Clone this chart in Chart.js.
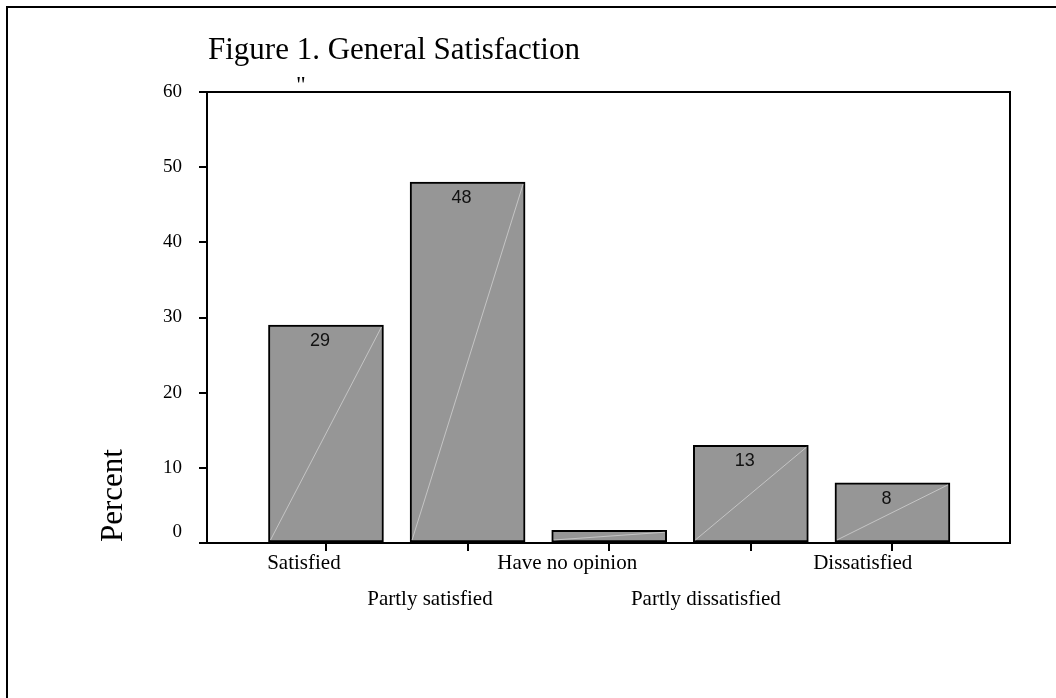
<!DOCTYPE html>
<html>
<head>
<meta charset="utf-8">
<title>Figure 1. General Satisfaction</title>
<script src="https://cdn.jsdelivr.net/npm/chart.js@4/dist/chart.umd.min.js"></script>
<style>
  html, body { margin: 0; padding: 0; background: #fff; }
  #wrap { width: 1056px; height: 698px; position: relative; overflow: hidden; }
  canvas { display: block; }
</style>
</head>
<body>
<div id="wrap"><canvas id="chart" width="1056" height="698"></canvas></div>
<script>
// Survey answers and the share of respondents (%) giving each one
const categories = ['Satisfied', 'Partly satisfied', 'Have no opinion', 'Partly dissatisfied', 'Dissatisfied'];
const percents = [29, 48, 1.7, 13, 8];
const showValue = [true, true, false, true, true];
const yTickValues = [0, 10, 20, 30, 40, 50, 60];

const chartTitle = 'Figure 1. General Satisfaction';
const yTitle = 'Percent';

const SERIF = '"Liberation Serif", "Times New Roman", Times, serif';
const SANS = '"Liberation Sans", Arial, Helvetica, sans-serif';

// Frame, title, axis caption, bar diagonals, value labels and category labels
const decor = {
  id: 'decor',
  beforeDraw(chart) {
    const ctx = chart.ctx;
    ctx.save();
    ctx.fillStyle = '#fff';
    ctx.fillRect(0, 0, chart.width, chart.height);
    // outer page frame
    ctx.strokeStyle = '#000';
    ctx.lineWidth = 2;
    ctx.beginPath();
    ctx.moveTo(7, chart.height);
    ctx.lineTo(7, 7);
    ctx.lineTo(chart.width, 7);
    ctx.stroke();
    // title
    ctx.fillStyle = '#000';
    ctx.font = '31px ' + SERIF;
    ctx.textAlign = 'left';
    ctx.textBaseline = 'alphabetic';
    ctx.fillText(chartTitle, 208, 59);
    ctx.font = '24px ' + SERIF;
    ctx.fillText('"', 296, 92);
    // rotated axis caption
    ctx.save();
    ctx.translate(122, 542);
    ctx.rotate(-Math.PI / 2);
    ctx.font = '31px ' + SERIF;
    ctx.fillText(yTitle, 0, 0);
    ctx.restore();
    ctx.restore();
  },
  afterDatasetsDraw(chart) {
    const ctx = chart.ctx;
    const meta = chart.getDatasetMeta(0);
    ctx.save();
    meta.data.forEach((bar, i) => {
      const p = bar.getProps(['x', 'y', 'base', 'width'], true);
      const left = p.x - p.width / 2 + 2;
      const right = p.x + p.width / 2 - 2;
      ctx.strokeStyle = 'rgba(205,205,205,0.85)';
      ctx.lineWidth = 1;
      ctx.beginPath();
      ctx.moveTo(left, p.base - 2);
      ctx.lineTo(right, p.y + 2);
      ctx.stroke();
      if (showValue[i]) {
        ctx.fillStyle = '#111';
        ctx.font = '18px ' + SANS;
        ctx.textAlign = 'center';
        ctx.textBaseline = 'middle';
        ctx.fillText(String(Math.round(percents[i])), p.x - 6, p.y + 16);
      }
    });
    ctx.restore();
  },
  afterDraw(chart) {
    const a = chart.chartArea;
    const ctx = chart.ctx;
    ctx.save();
    ctx.strokeStyle = '#000';
    ctx.lineWidth = 2;
    ctx.beginPath();
    ctx.moveTo(a.left - 8, a.top);
    ctx.lineTo(a.right, a.top);
    ctx.lineTo(a.right, a.bottom);
    ctx.stroke();
    // category names in two staggered rows under their tick marks
    const xs = chart.scales.x;
    ctx.fillStyle = '#000';
    ctx.font = '21px ' + SERIF;
    ctx.textAlign = 'left';
    ctx.textBaseline = 'middle';
    categories.forEach((name, i) => {
      const px = xs.getPixelForValue(i);
      const w = ctx.measureText(name).width;
      const y = a.bottom + (i % 2 ? 56 : 20);
      ctx.fillText(name, px - 0.8 * w, y);
    });
    ctx.restore();
  }
};

new Chart(document.getElementById('chart'), {
  type: 'bar',
  data: {
    datasets: [{
      data: categories.map((c, i) => ({ x: i, y: percents[i] })),
      backgroundColor: '#969696',
      borderColor: '#000',
      borderWidth: 2,
      borderSkipped: false,
      barThickness: 115
    }]
  },
  options: {
    responsive: false,
    devicePixelRatio: 1,
    animation: false,
    layout: { padding: { top: 92, right: 46, left: 0, bottom: 0 } },
    plugins: {
      legend: { display: false },
      title: { display: false },
      tooltip: { enabled: false }
    },
    scales: {
      x: {
        type: 'linear',
        min: -0.84,
        max: 4.83,
        offset: false,
        afterBuildTicks: (s) => { s.ticks = categories.map((c, i) => ({ value: i })); },
        afterFit: (s) => { s.height = 155; },
        grid: { display: true, offset: false, drawOnChartArea: false, drawTicks: true, tickLength: 8, color: '#000', lineWidth: 2 },
        border: { display: true, color: '#000', width: 2 },
        ticks: { display: false, autoSkip: false, maxRotation: 0, minRotation: 0 }
      },
      y: {
        min: 0,
        max: 60,
        afterBuildTicks: (s) => { s.ticks = yTickValues.map(v => ({ value: v })); },
        afterFit: (s) => { s.width = 207; },
        grid: { display: true, drawOnChartArea: false, drawTicks: true, tickLength: 8, color: '#000', lineWidth: 2 },
        border: { display: true, color: '#000', width: 2 },
        ticks: {
          padding: 17,
          color: '#000',
          font: { family: SERIF, size: 19 },
          callback: (v) => v === 0 ? ['0', ''] : String(v)
        }
      }
    }
  },
  plugins: [decor]
});
</script>
</body>
</html>
